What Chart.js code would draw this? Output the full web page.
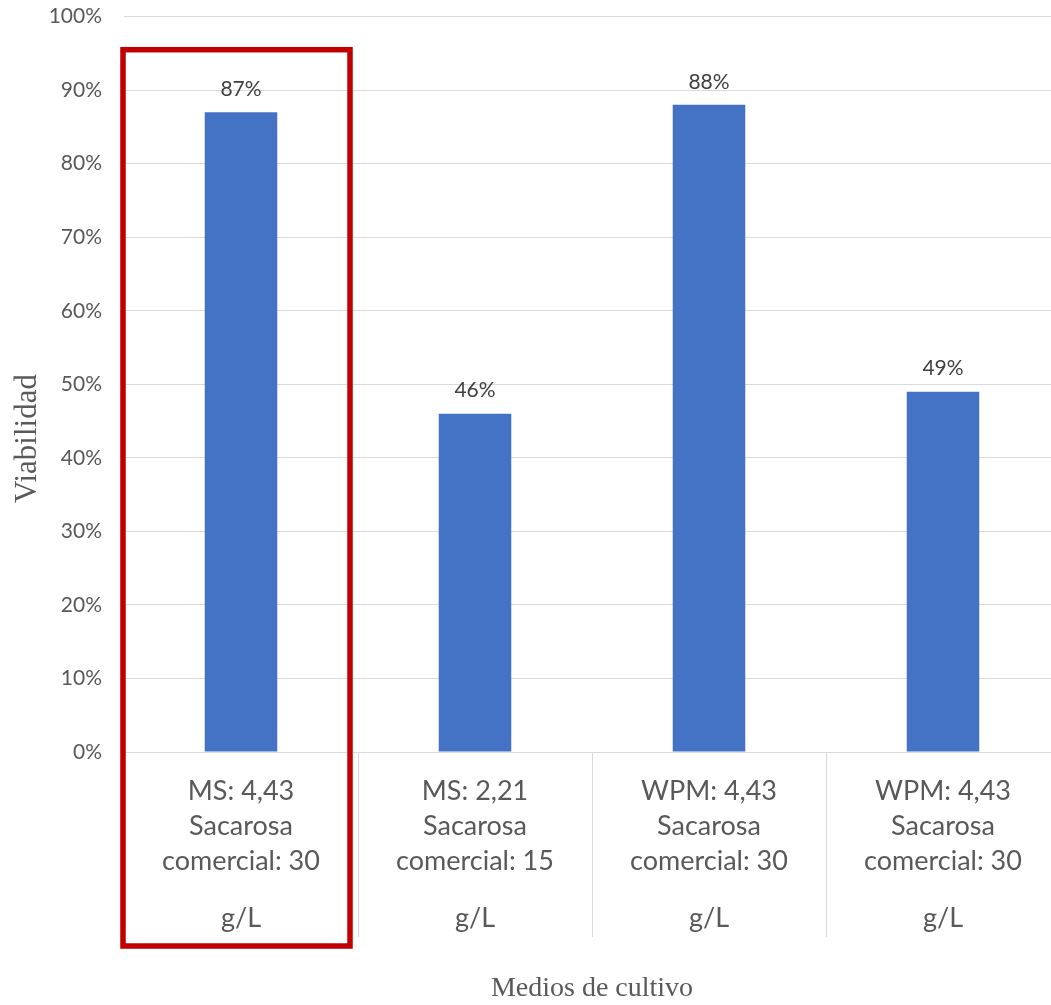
<!DOCTYPE html>
<html>
<head>
<meta charset="utf-8">
<script src="https://cdn.jsdelivr.net/npm/chart.js@4/dist/chart.umd.min.js"></script>
<style>
  html, body { margin: 0; padding: 0; background: #fff; overflow: hidden; }
  #wrap { width: 1060px; height: 1005px; }
</style>
</head>
<body>
<div id="wrap"><canvas id="viabChart"></canvas></div>
<script>
// Datos
const categories = [
    ['MS: 4,43', 'Sacarosa', 'comercial: 30'],
    ['MS: 2,21', 'Sacarosa', 'comercial: 15'],
    ['WPM: 4,43', 'Sacarosa', 'comercial: 30'],
    ['WPM: 4,43', 'Sacarosa', 'comercial: 30']
];
const unitLabels = ['g/L', 'g/L', 'g/L', 'g/L'];
const viabilidad = [87, 46, 88, 49];
const yTicks = [0, 10, 20, 30, 40, 50, 60, 70, 80, 90, 100];

const gridColor = '#d9d9d9';
const textColor = '#595959';

// separadores de categorias debajo del eje
const separators = {
    id: 'separators',
    afterDraw(chart) {
        const x = chart.scales.x;
        const area = chart.chartArea;
        const ctx = chart.ctx;
        ctx.save();
        ctx.strokeStyle = gridColor;
        ctx.lineWidth = 1;
        for (let i = 0; i < categories.length; i++) {
            const px = i === 0 ? area.left : (x.getPixelForValue(i - 1) + x.getPixelForValue(i)) / 2;
            const ax = Math.round(px) + 0.5;
            ctx.beginPath();
            ctx.moveTo(ax, area.bottom);
            ctx.lineTo(ax, area.bottom + 185);
            ctx.stroke();
        }
        ctx.restore();
    }
};

// etiquetas de valor encima de las barras
const valueLabels = {
    id: 'valueLabels',
    afterDatasetsDraw(chart) {
        const ctx = chart.ctx;
        const meta = chart.getDatasetMeta(0);
        ctx.save();
        ctx.font = '21px Lato';
        ctx.fillStyle = '#404040';
        ctx.textAlign = 'center';
        ctx.textBaseline = 'middle';
        meta.data.forEach((bar, i) => {
            ctx.fillText(viabilidad[i] + '%', bar.x, bar.y - 23);
        });
        ctx.restore();
    }
};

// titulo del eje Y (un poco mas abajo que el centro del area)
const yTitle = {
    id: 'yTitle',
    afterDraw(chart) {
        const area = chart.chartArea;
        const ctx = chart.ctx;
        ctx.save();
        ctx.translate(28, area.top + 422);
        ctx.rotate(-Math.PI / 2);
        ctx.font = '31px "Liberation Serif"';
        ctx.fillStyle = textColor;
        ctx.textAlign = 'center';
        ctx.textBaseline = 'middle';
        ctx.fillText('Viabilidad', 0, 0);
        ctx.restore();
    }
};

// recuadro rojo del primer medio
const highlightBox = {
    id: 'highlightBox',
    afterDraw(chart) {
        const x = chart.scales.x;
        const y = chart.scales.y;
        const area = chart.chartArea;
        const ctx = chart.ctx;
        const left = area.left - 1;
        const right = (x.getPixelForValue(0) + x.getPixelForValue(1)) / 2 - 8;
        const top = y.getPixelForValue(95.5);
        const bottom = area.bottom + 194;
        ctx.save();
        ctx.strokeStyle = '#c00000';
        ctx.lineWidth = 5.5;
        ctx.strokeRect(left, top, right - left, bottom - top);
        ctx.restore();
    }
};

new Chart(document.getElementById('viabChart'), {
    type: 'bar',
    data: {
        labels: categories,
        datasets: [{
            label: 'Viabilidad',
            data: viabilidad,
            backgroundColor: '#4472c4',
            borderWidth: 0,
            barPercentage: 0.62,
            categoryPercentage: 0.5
        }]
    },
    options: {
        responsive: true,
        maintainAspectRatio: false,
        animation: false,
        layout: { padding: 0 },
        plugins: {
            legend: { display: false },
            tooltip: { enabled: false }
        },
        scales: {
            x: {
                position: 'bottom',
                grid: { display: false },
                border: { display: false },
                ticks: {
                    color: textColor,
                    font: { family: 'Lato', size: 27, lineHeight: 1.3 },
                    padding: 14,
                    maxRotation: 0,
                    autoSkip: false
                },
                afterFit(scale) { scale.height = 140; }
            },
            x2: {
                type: 'category',
                position: 'bottom',
                labels: unitLabels,
                grid: { display: false },
                border: { display: false },
                ticks: {
                    color: textColor,
                    font: { family: 'Lato', size: 27, lineHeight: 1.3 },
                    padding: 1,
                    maxRotation: 0,
                    autoSkip: false
                },
                title: {
                    display: true,
                    text: 'Medios de cultivo',
                    color: textColor,
                    font: { family: 'Liberation Serif', size: 28 },
                    padding: { top: 0, bottom: 0 }
                },
                afterFit(scale) { scale.height = 113; }
            },
            y: {
                min: 0,
                max: 100,
                afterBuildTicks(scale) {
                    scale.ticks = yTicks.map(v => ({ value: v }));
                },
                grid: {
                    color: gridColor,
                    lineWidth: 1,
                    drawTicks: true,
                    tickLength: 18,
                    tickColor: 'rgba(0,0,0,0)'
                },
                border: { display: false },
                ticks: {
                    color: textColor,
                    font: { family: 'Lato', size: 21 },
                    padding: 4,
                    callback: v => v + '%'
                },
                afterFit(scale) { scale.width = 124; }
            }
        }
    },
    plugins: [separators, valueLabels, yTitle, highlightBox]
});
</script>
</body>
</html>
